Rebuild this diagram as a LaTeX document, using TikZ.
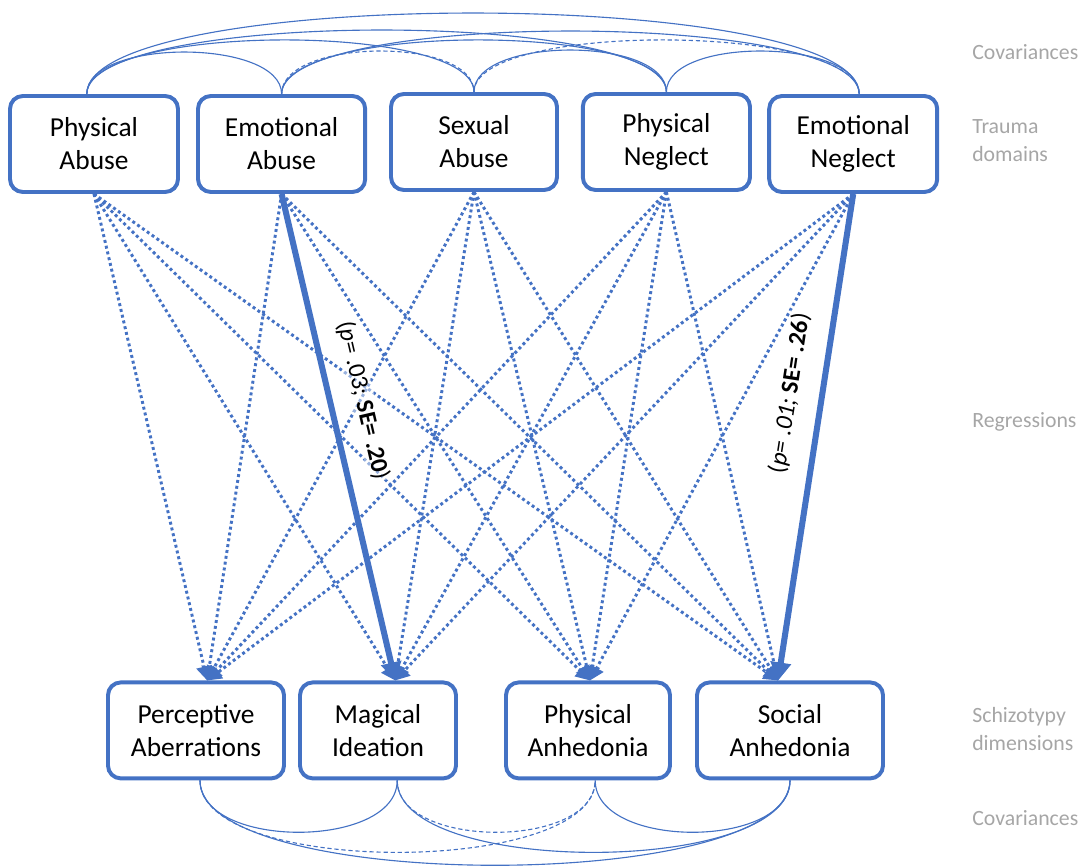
\documentclass[tikz,border=0pt]{standalone}
\usepackage{fontspec}
\setmainfont{Carlito}
\usetikzlibrary{arrows.meta,calc}
\definecolor{boxblue}{HTML}{4472C4}
\definecolor{notegray}{HTML}{A6A6A6}
\tikzset{
  box/.style={draw=boxblue, line width=2.8pt, rounded corners=0.32cm, minimum height=2.4cm,
    align=center, inner sep=2pt, font=\fontsize{19.5}{23.5}\selectfont},
  reg/.style={boxblue, line width=2.1pt, dash pattern=on 2.1pt off 2.1pt,
    -{Triangle[length=0.35cm,width=0.38cm]}},
  sig/.style={boxblue, line width=4.3pt, -{Triangle[length=0.45cm,width=0.5cm]}},
  cov/.style={boxblue, line width=0.8pt},
  covdash/.style={cov, dash pattern=on 3pt off 2pt},
  side/.style={notegray, anchor=west, align=left, inner sep=0pt, font=\fontsize{15.5}{20}\selectfont},
  est/.style={text=black, fill=white, fill opacity=0.45, text opacity=1, inner sep=1pt,
    font=\fontsize{17.5}{20}\selectfont, sloped, above=0.42cm}
}
\begin{document}
\begin{tikzpicture}
  \useasboundingbox (0,0) rectangle (27.1,-21.65);

  % -------- top: trauma domains --------
  \node[box, minimum width=4.2cm]  (pa) at (2.35,-3.6)  {Physical\\Abuse};
  \node[box, minimum width=4.18cm] (ea) at (7.04,-3.6)  {Emotional\\Abuse};
  \node[box, minimum width=4.15cm] (sa) at (11.85,-3.55) {Sexual\\Abuse};
  \node[box, minimum width=4.18cm] (pn) at (16.66,-3.55) {Physical\\Neglect};
  \node[box, minimum width=4.2cm]  (en) at (21.33,-3.6) {Emotional\\Neglect};

  % -------- bottom: schizotypy dimensions --------
  \node[box, minimum width=4.4cm]  (perc) at (4.9,-18.26)  {Perceptive\\Aberrations};
  \node[box, minimum width=3.9cm]  (magi) at (9.45,-18.26) {Magical\\Ideation};
  \node[box, minimum width=4.1cm]  (phan) at (14.7,-18.26) {Physical\\Anhedonia};
  \node[box, minimum width=4.65cm] (soan) at (19.75,-18.26) {Social\\Anhedonia};

  % attachment points
  \coordinate (pa-top) at ([xshift=-0.18cm]pa.north);
  \coordinate (ea-top) at (ea.north);
  \coordinate (sa-top) at (sa.north);
  \coordinate (pn-top) at (pn.north);
  \coordinate (en-top) at ([xshift=0.15cm]en.north);
  \coordinate (perc-bot) at ([xshift=0.1cm]perc.south);
  \coordinate (magi-bot) at ([xshift=0.48cm]magi.south);
  \coordinate (phan-bot) at ([xshift=0.18cm]phan.south);
  \coordinate (soan-bot) at (soan.south);
  \coordinate (perc-in) at ([xshift=0.28cm]perc.north);
  \coordinate (magi-in) at ([xshift=0.43cm]magi.north);
  \coordinate (phan-in) at ([xshift=0.05cm]phan.north);
  \coordinate (soan-in) at ([xshift=-0.3cm]soan.north);

  % -------- covariances --------
  \foreach \a/\b/\h/\sty in {pa/ea/1.4/cov, ea/sa/1.4/covdash, sa/pn/1.4/cov, pn/en/1.4/cov,
      pa/sa/1.77/cov, ea/pn/1.77/cov, sa/en/1.77/covdash,
      pa/pn/2.1/cov, ea/en/2.1/cov, pa/en/2.7/cov} {
    \draw[\sty] (\a-top) .. controls +(0,\h) and +(0,\h) .. (\b-top);
  }
  \foreach \a/\b/\h/\sty in {perc/magi/1.73/cov, magi/phan/1.73/covdash, phan/soan/1.73/cov,
      perc/phan/2.4/covdash, magi/soan/2.4/cov, perc/soan/2.83/cov} {
    \draw[\sty] (\a-bot) .. controls +(0,-\h) and +(0,-\h) .. (\b-bot);
  }

  % -------- regressions --------
  \foreach \s in {pa,ea,sa,pn,en} {
    \foreach \t in {perc,magi,phan,soan} {
      \draw[reg] (\s.south) -- (\t-in);
    }
  }
  \draw[sig] (ea.south) -- node[est, pos=0.44] {(\textit{p}= .03; \textbf{SE= .20})} (magi-in);
  \draw[sig] (en.south) -- node[est, pos=0.42] {(\textit{p= .01;} \textbf{SE= .26})} (soan-in);

  % -------- side notes --------
  \node[side] (note-cov1) at (24.3,-1.3)   {Covariances};
  \node[side] (note-trau) at (24.3,-3.52)  {Trauma\\domains};
  \node[side] (note-reg)  at (24.3,-10.55) {Regressions};
  \node[side] (note-schi) at (24.3,-18.22) {Schizotypy\\dimensions};
  \node[side] (note-cov2) at (24.3,-20.45) {Covariances};
\end{tikzpicture}
\end{document}
